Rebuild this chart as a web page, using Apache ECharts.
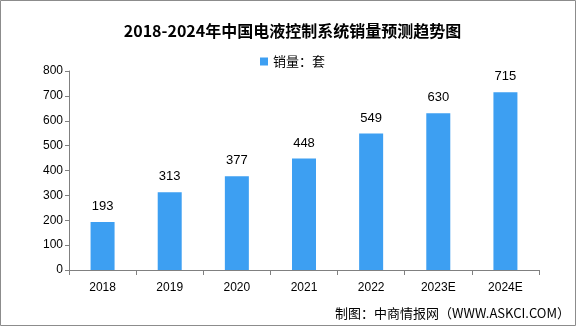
<!DOCTYPE html>
<html>
<head>
<meta charset="utf-8">
<script src="https://cdn.jsdelivr.net/npm/echarts@6/dist/echarts.min.js"></script>
<style>
  html, body { margin: 0; padding: 0; background: #fff; }
  #chart { width: 585px; height: 327px; }
</style>
</head>
<body>
<div id="chart"></div>
<script>
// 2018-2024 electro-hydraulic control system sales (sets)
const categories = ['2018', '2019', '2020', '2021', '2022', '2023E', '2024E'];
const salesValues = [193, 313, 377, 448, 549, 630, 715];
const yTicks = { min: 0, max: 800, interval: 100 };
const seriesName = '销量：套';
const titleText = '2018-2024年中国电液控制系统销量预测趋势图';
const sourceText = '制图：中商情报网（WWW.ASKCI.COM）';

const cjk = '"Noto Sans CJK SC", "Liberation Sans", sans-serif';
const num = '"Liberation Sans", Arial, sans-serif';

const chart = echarts.init(document.getElementById('chart'), null, { renderer: 'canvas' });
chart.setOption({
  animation: false,
  backgroundColor: '#fff',
  title: {
    text: titleText,
    left: 'center',
    top: 18,
    textStyle: { fontFamily: cjk, fontSize: 16, fontWeight: 'bold', color: '#000' }
  },
  legend: {
    data: [seriesName],
    top: 50,
    left: 'center',
    itemWidth: 8,
    itemHeight: 8,
    itemGap: 6,
    icon: 'rect',
    textStyle: { fontFamily: cjk, fontSize: 13, color: '#000' }
  },
  grid: { left: 69, right: 46, top: 71, bottom: 57, containLabel: false },
  xAxis: {
    type: 'category',
    data: categories,
    axisLine: { lineStyle: { color: '#808080', width: 1 } },
    axisTick: { show: true, alignWithLabel: false, length: 5, lineStyle: { color: '#808080' } },
    axisLabel: { color: '#000', fontFamily: num, fontSize: 12, margin: 12 }
  },
  yAxis: {
    type: 'value',
    min: yTicks.min,
    max: yTicks.max,
    interval: yTicks.interval,
    axisLine: { show: true, lineStyle: { color: '#808080', width: 1 } },
    axisTick: { show: true, length: 4, inside: false, lineStyle: { color: '#808080' } },
    axisLabel: { color: '#000', fontFamily: num, fontSize: 12, margin: 6 },
    splitLine: { show: false }
  },
  series: [{
    name: seriesName,
    type: 'bar',
    data: salesValues,
    barWidth: 24,
    itemStyle: { color: '#3d9ff2' },
    label: {
      show: true,
      position: 'top',
      distance: 9,
      color: '#000',
      fontFamily: num,
      fontSize: 13
    }
  }],
  graphic: [
    {
      type: 'rect',
      shape: { x: 0.5, y: 0.5, width: 575, height: 325 },
      style: { fill: 'none', stroke: '#8c8c8c', lineWidth: 1 },
      silent: true,
      z: 10
    },
    {
      type: 'text',
      right: 15,
      bottom: 7,
      style: { text: sourceText, fill: '#000', font: '13px "Noto Sans CJK SC", sans-serif' }
    }
  ]
});
</script>
</body>
</html>
